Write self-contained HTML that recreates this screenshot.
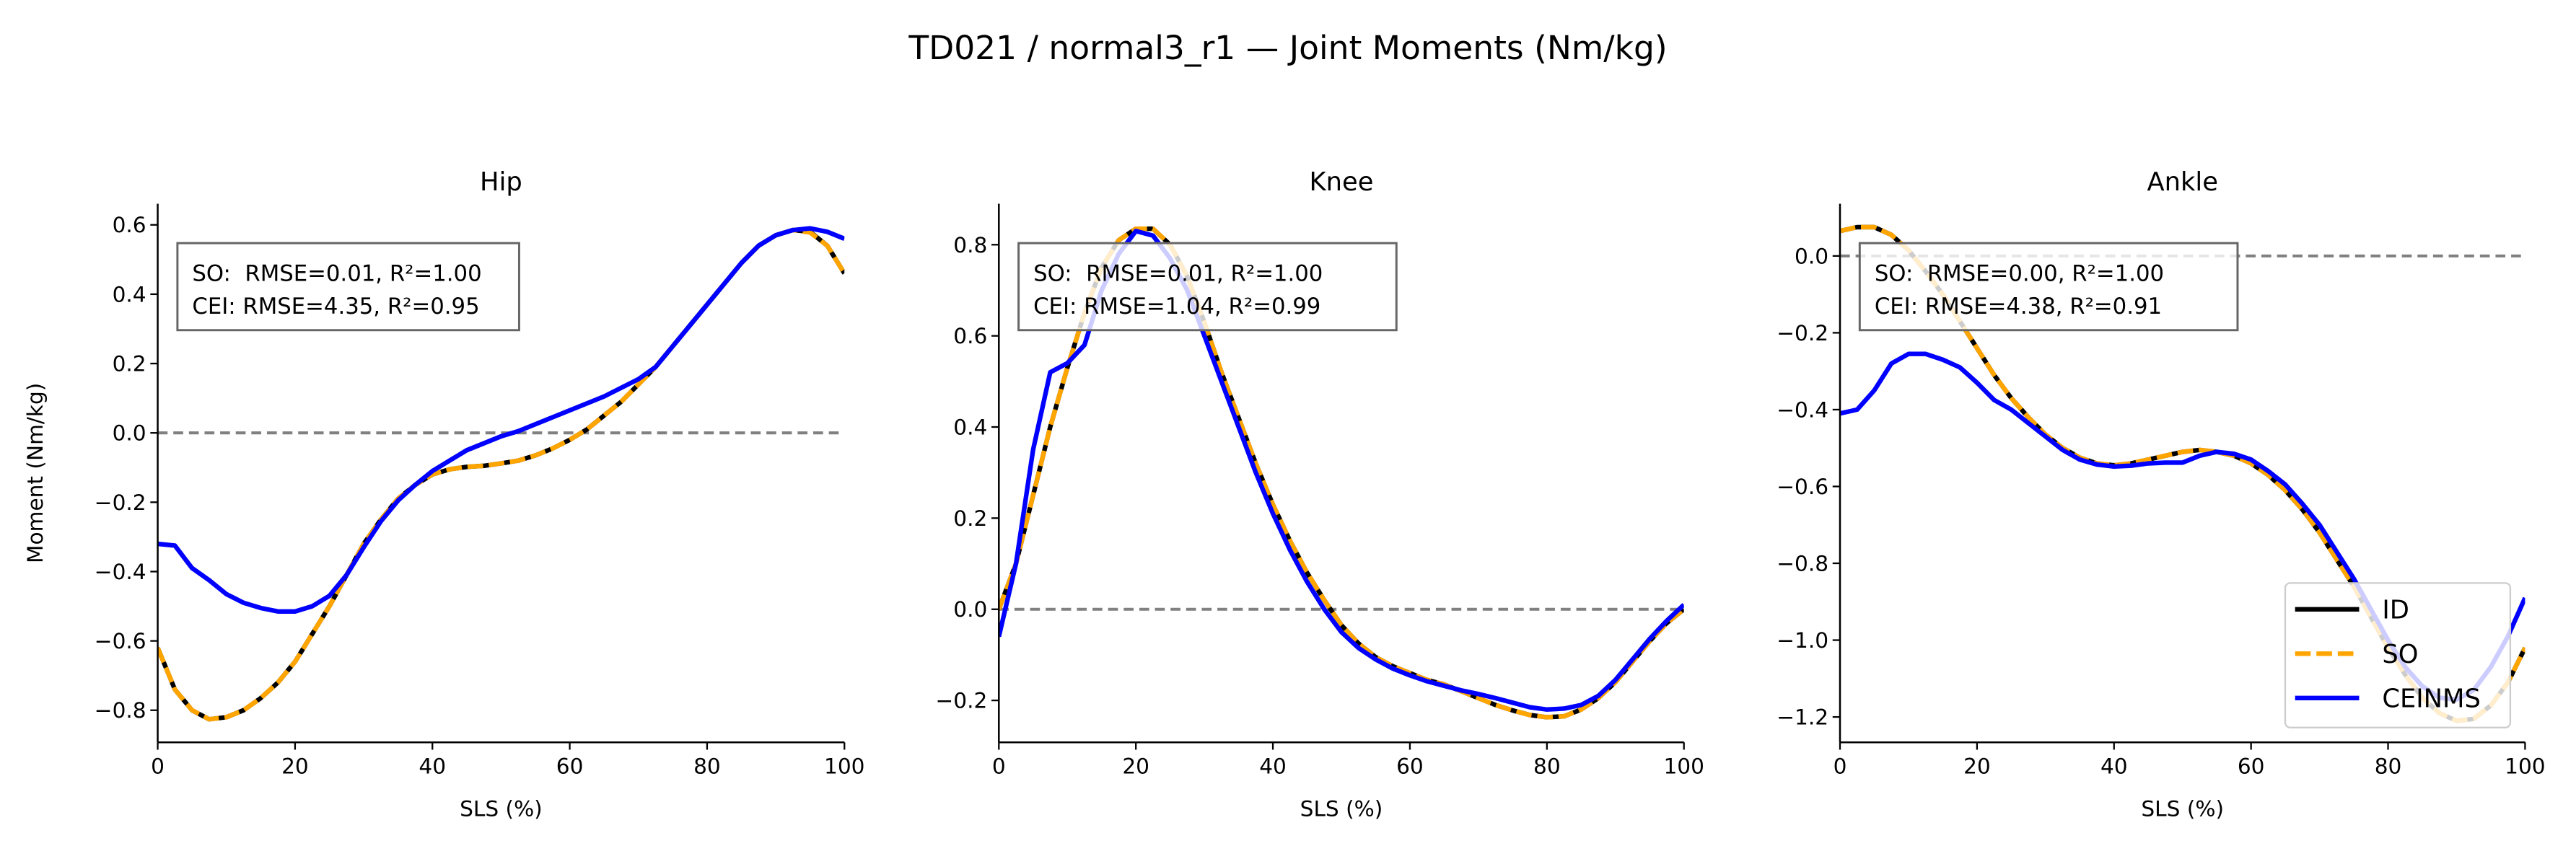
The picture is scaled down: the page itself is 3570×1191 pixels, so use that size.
<!DOCTYPE html>
<html><head><meta charset="utf-8"><style>
html,body{margin:0;padding:0;background:#fff;}
svg{display:block;font-family:"DejaVu Sans","Liberation Sans",sans-serif;}
text{white-space:pre;}
</style></head><body>
<svg id="fig" width="3570" height="1191" viewBox="0 0 1568 523" xmlns="http://www.w3.org/2000/svg">
<rect width="1568" height="523" fill="#fff"/>
<text x="784" y="36" font-size="20" text-anchor="middle">TD021 / normal3_r1 — Joint Moments (Nm/kg)</text>
</svg>
<script>
const xs = [0,2.5,5,7.5,10,12.5,15,17.5,20,22.5,25,27.5,30,32.5,35,37.5,40,42.5,45,47.5,50,52.5,55,57.5,60,62.5,65,67.5,70,72.5,75,77.5,80,82.5,85,87.5,90,92.5,95,97.5,100];
const hipID = [-0.62,-0.74,-0.80,-0.826,-0.82,-0.80,-0.765,-0.72,-0.66,-0.58,-0.50,-0.41,-0.32,-0.25,-0.19,-0.15,-0.12,-0.105,-0.098,-0.095,-0.088,-0.08,-0.065,-0.045,-0.02,0.01,0.05,0.09,0.14,0.19,0.25,0.31,0.37,0.43,0.49,0.54,0.57,0.585,0.58,0.54,0.46];
const hipSO = [-0.62,-0.74,-0.80,-0.826,-0.82,-0.80,-0.765,-0.72,-0.66,-0.58,-0.50,-0.41,-0.32,-0.25,-0.19,-0.15,-0.12,-0.105,-0.098,-0.095,-0.088,-0.08,-0.065,-0.045,-0.02,0.01,0.05,0.09,0.14,0.19,0.25,0.31,0.37,0.43,0.49,0.54,0.57,0.585,0.578,0.54,0.46];
const hipCEI = [-0.32,-0.325,-0.39,-0.425,-0.465,-0.49,-0.505,-0.515,-0.515,-0.50,-0.47,-0.41,-0.33,-0.255,-0.195,-0.15,-0.11,-0.08,-0.05,-0.03,-0.01,0.005,0.025,0.045,0.065,0.085,0.105,0.13,0.155,0.19,0.25,0.31,0.37,0.43,0.49,0.54,0.57,0.585,0.59,0.58,0.56];
const kneeID = [0.0,0.1,0.25,0.40,0.53,0.65,0.75,0.81,0.835,0.835,0.80,0.73,0.63,0.52,0.42,0.32,0.23,0.15,0.08,0.02,-0.035,-0.075,-0.105,-0.125,-0.14,-0.155,-0.165,-0.18,-0.195,-0.21,-0.222,-0.232,-0.237,-0.235,-0.22,-0.195,-0.16,-0.115,-0.07,-0.03,0.0];
const kneeSO = [0.0,0.1,0.25,0.40,0.53,0.65,0.75,0.81,0.835,0.835,0.80,0.73,0.63,0.52,0.42,0.32,0.23,0.15,0.08,0.02,-0.035,-0.075,-0.105,-0.125,-0.14,-0.155,-0.165,-0.18,-0.195,-0.21,-0.222,-0.232,-0.237,-0.235,-0.22,-0.195,-0.16,-0.115,-0.07,-0.03,0.0];
const kneeCEI = [-0.06,0.1,0.35,0.52,0.54,0.58,0.70,0.78,0.83,0.82,0.77,0.70,0.60,0.50,0.40,0.30,0.21,0.13,0.06,0.0,-0.05,-0.085,-0.11,-0.13,-0.145,-0.158,-0.168,-0.178,-0.186,-0.195,-0.205,-0.215,-0.22,-0.218,-0.21,-0.19,-0.155,-0.11,-0.065,-0.025,0.01];
const ankleID = [0.065,0.075,0.075,0.055,0.015,-0.04,-0.10,-0.17,-0.24,-0.31,-0.37,-0.42,-0.465,-0.50,-0.525,-0.54,-0.545,-0.54,-0.53,-0.52,-0.51,-0.505,-0.51,-0.52,-0.54,-0.57,-0.61,-0.66,-0.72,-0.79,-0.86,-0.94,-1.02,-1.09,-1.15,-1.19,-1.21,-1.205,-1.17,-1.11,-1.02];
const ankleSO = [0.065,0.075,0.075,0.055,0.015,-0.04,-0.10,-0.17,-0.24,-0.31,-0.37,-0.42,-0.465,-0.50,-0.525,-0.54,-0.545,-0.54,-0.53,-0.52,-0.51,-0.505,-0.51,-0.52,-0.54,-0.57,-0.61,-0.66,-0.72,-0.79,-0.86,-0.94,-1.02,-1.09,-1.15,-1.19,-1.21,-1.205,-1.17,-1.11,-1.02];
const ankleCEI = [-0.41,-0.40,-0.35,-0.28,-0.255,-0.255,-0.27,-0.29,-0.33,-0.375,-0.40,-0.435,-0.47,-0.505,-0.53,-0.543,-0.548,-0.546,-0.54,-0.538,-0.538,-0.52,-0.51,-0.515,-0.53,-0.56,-0.595,-0.645,-0.70,-0.77,-0.84,-0.92,-1.0,-1.07,-1.12,-1.15,-1.155,-1.13,-1.07,-0.99,-0.89];
const xTicks = [0,20,40,60,80,100];
const hipYTicks = [-0.8,-0.6,-0.4,-0.2,0.0,0.2,0.4,0.6];
const kneeYTicks = [-0.2,0.0,0.2,0.4,0.6,0.8];
const ankleYTicks = [-1.2,-1.0,-0.8,-0.6,-0.4,-0.2,0.0];
const panelTitles = ["Hip","Knee","Ankle"];
const statsSO = ["SO:  RMSE=0.01, R²=1.00","SO:  RMSE=0.01, R²=1.00","SO:  RMSE=0.00, R²=1.00"];
const statsCEI = ["CEI: RMSE=4.35, R²=0.95","CEI: RMSE=1.04, R²=0.99","CEI: RMSE=4.38, R²=0.91"];

const svg = document.getElementById('fig');
const NS = 'http://www.w3.org/2000/svg';
function mk(tag, attrs, parent){const e=document.createElementNS(NS,tag);for(const k in attrs)e.setAttribute(k,attrs[k]);(parent||svg).appendChild(e);return e;}
function fmt(v){const s=Math.abs(v).toFixed(1);return (v<-1e-9?'\u2212':'')+s;}

const panels = [
 {x0:96,x1:514,ymin:-0.8925,ymax:0.661,id:hipID,so:hipSO,cei:hipCEI,yt:hipYTicks,key:'hip',bw:208},
 {x0:608,x1:1025,ymin:-0.292,ymax:0.89,id:kneeID,so:kneeSO,cei:kneeCEI,yt:kneeYTicks,key:'knee',bw:230},
 {x0:1120,x1:1537,ymin:-1.266,ymax:0.136,id:ankleID,so:ankleSO,cei:ankleCEI,yt:ankleYTicks,key:'ankle',bw:230}
];
const TOPY=124,BOTY=452;
panels.forEach((p,i)=>{
 const g=mk('g',{});
 
 
 const X=v=>p.x0+(v-0)/(100)*(p.x1-p.x0);
 const Y=v=>BOTY-(v-p.ymin)/(p.ymax-p.ymin)*(BOTY-TOPY);
 const clipId='clip'+i;
 const cp=mk('clipPath',{id:clipId},g);mk('rect',{x:p.x0,y:TOPY,width:p.x1-p.x0,height:BOTY-TOPY},cp);
 const z=mk('line',{x1:p.x0,x2:p.x1,y1:Y(0),y2:Y(0),stroke:'#808080','stroke-width':1.8,'stroke-dasharray':'6,3.5'},g);
 
 
 const pts=a=>a.map((v,j)=>X(xs[j]).toFixed(2)+','+Y(v).toFixed(2)).join(' ');
 const lg=mk('g',{'clip-path':'url(#'+clipId+')'},g);
 const l1=mk('polyline',{points:pts(p.id),fill:'none',stroke:'#000','stroke-width':2.8,'stroke-linejoin':'round'},lg);
 
 
 const l2=mk('polyline',{points:pts(p.so),fill:'none',stroke:'#ffa500','stroke-width':2.8,'stroke-dasharray':'9.5,3.5'},lg);
 
 
 const l3=mk('polyline',{points:pts(p.cei),fill:'none',stroke:'#0000ff','stroke-width':2.8,'stroke-linejoin':'round'},lg);
 
 
 mk('line',{x1:p.x0,x2:p.x0,y1:TOPY,y2:BOTY,stroke:'#000','stroke-width':1.1},g);
 mk('line',{x1:p.x0,x2:p.x1,y1:BOTY,y2:BOTY,stroke:'#000','stroke-width':1.1},g);
 xTicks.forEach(t=>{
  mk('line',{x1:X(t),x2:X(t),y1:BOTY,y2:BOTY+4.5,stroke:'#000','stroke-width':1},g);
  const tx=mk('text',{x:X(t),y:BOTY+19,'font-size':13,'text-anchor':'middle'},g);tx.textContent=t;
  
  
 });
 p.yt.forEach(t=>{
  mk('line',{x1:p.x0-4.5,x2:p.x0,y1:Y(t),y2:Y(t),stroke:'#000','stroke-width':1},g);
  const ty=mk('text',{x:p.x0-7,y:Y(t)+4.6,'font-size':13,'text-anchor':'end'},g);ty.textContent=fmt(t);
  
  
 });
 const xl=mk('text',{x:(p.x0+p.x1)/2,y:497,'font-size':13,'text-anchor':'middle'},g);xl.textContent='SLS (%)';
 
 
 const tt=mk('text',{x:(p.x0+p.x1)/2,y:116,'font-size':15.5,'text-anchor':'middle'},g);tt.textContent=panelTitles[i];
 
 
 const bx=mk('g',{},g);
 
 
 mk('rect',{x:p.x0+12,y:148,width:p.bw,height:53,fill:'rgba(255,255,255,0.8)',stroke:'#666','stroke-width':1.3},bx);
 const s1=mk('text',{x:p.x0+21,y:171,'font-size':13.5,'xml:space':'preserve'},bx);s1.textContent=statsSO[i];
 const s2=mk('text',{x:p.x0+21,y:191,'font-size':13.5},bx);s2.textContent=statsCEI[i];
});
const yl=mk('text',{x:0,y:0,'font-size':13,'text-anchor':'middle',transform:'translate(26,288) rotate(-90)'});
yl.textContent='Moment (Nm/kg)';


const leg=mk('g',{});


mk('rect',{x:1391,y:355,width:137,height:88,rx:3,fill:'rgba(255,255,255,0.8)',stroke:'#ccc','stroke-width':1},leg);
const legNames=['ID','SO','CEINMS'];
const legCols=['#000','#ffa500','#0000ff'];
legNames.forEach((n,k)=>{
 const y=371+k*27;
 const ln=mk('line',{x1:1397,x2:1436,y1:y,y2:y,stroke:legCols[k],'stroke-width':2.8,'stroke-dasharray':k==1?'9.5,3.5':'none'},leg);
 
 
 const t=mk('text',{x:1450,y:y+5.5,'font-size':15.5},leg);t.textContent=n;
});
</script>
</body></html>
